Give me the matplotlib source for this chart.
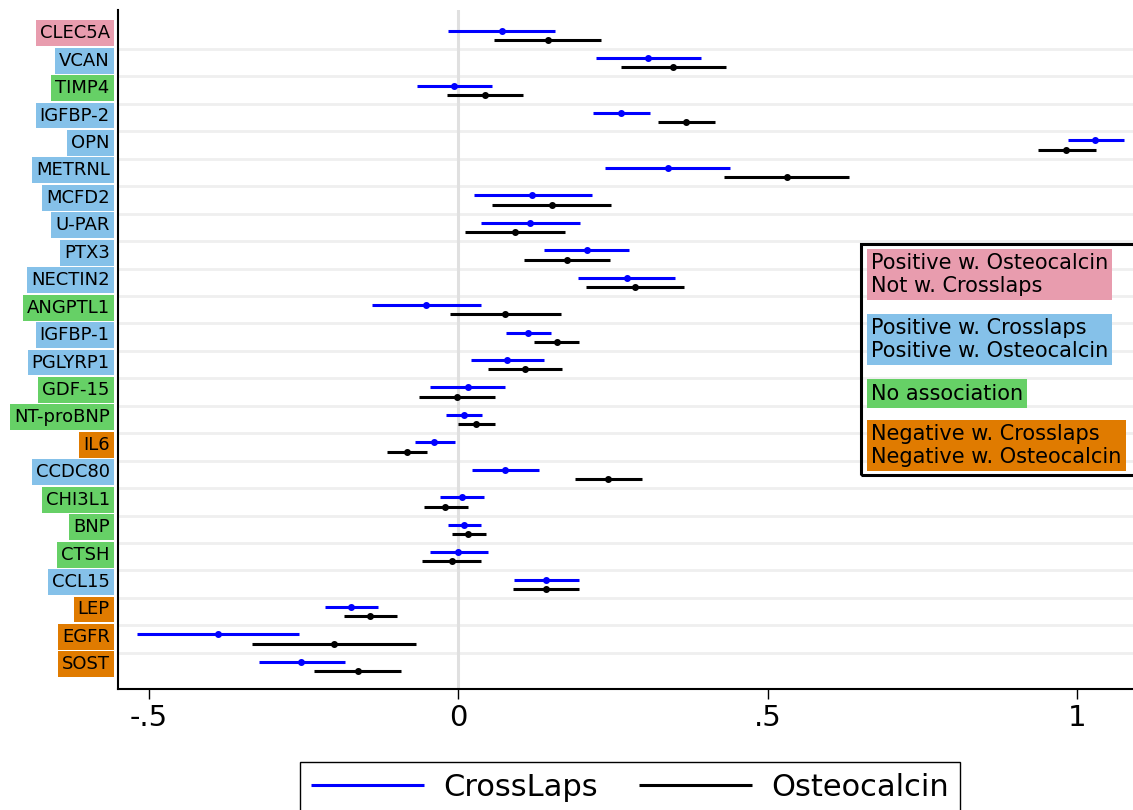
import matplotlib
matplotlib.use("Agg")
import matplotlib.pyplot as plt
from matplotlib.patches import Rectangle
import numpy as np

proteins = ["CLEC5A", "VCAN", "TIMP4", "IGFBP-2", "OPN", "METRNL", "MCFD2", "U-PAR",
            "PTX3", "NECTIN2", "ANGPTL1", "IGFBP-1", "PGLYRP1", "GDF-15", "NT-proBNP",
            "IL6", "CCDC80", "CHI3L1", "BNP", "CTSH", "CCL15", "LEP", "EGFR", "SOST"]
groups = ["pink", "blue", "green", "blue", "blue", "blue", "blue", "blue",
          "blue", "blue", "green", "blue", "blue", "green", "green",
          "orange", "blue", "green", "green", "green", "blue", "orange", "orange", "orange"]

# CrossLaps: estimate, lower and upper CI
cl_est = [0.070, 0.307, -0.007, 0.263, 1.029, 0.338, 0.119, 0.116, 0.208, 0.272, -0.052, 0.113,
          0.078, 0.015, 0.009, -0.039, 0.075, 0.005, 0.009, 0.000, 0.142, -0.174, -0.389, -0.254]
cl_lo = [-0.017, 0.222, -0.067, 0.217, 0.985, 0.237, 0.025, 0.036, 0.138, 0.193, -0.140, 0.077,
         0.020, -0.046, -0.020, -0.070, 0.022, -0.030, -0.017, -0.046, 0.090, -0.216, -0.519, -0.322]
cl_hi = [0.156, 0.392, 0.054, 0.309, 1.075, 0.439, 0.216, 0.196, 0.275, 0.350, 0.036, 0.149,
         0.138, 0.075, 0.038, -0.006, 0.130, 0.041, 0.036, 0.048, 0.194, -0.130, -0.258, -0.183]

# Osteocalcin: estimate, lower and upper CI
oc_est = [0.145, 0.347, 0.043, 0.368, 0.982, 0.530, 0.151, 0.091, 0.176, 0.286, 0.075, 0.159,
          0.107, -0.003, 0.029, -0.083, 0.242, -0.021, 0.016, -0.011, 0.141, -0.143, -0.201, -0.163]
oc_lo = [0.058, 0.263, -0.019, 0.322, 0.936, 0.429, 0.054, 0.011, 0.106, 0.206, -0.014, 0.122,
         0.048, -0.064, -0.001, -0.116, 0.188, -0.056, -0.011, -0.059, 0.088, -0.185, -0.333, -0.233]
oc_hi = [0.231, 0.432, 0.104, 0.414, 1.030, 0.631, 0.246, 0.172, 0.245, 0.364, 0.166, 0.195,
         0.167, 0.059, 0.059, -0.051, 0.296, 0.015, 0.044, 0.036, 0.194, -0.099, -0.069, -0.093]

xticks = [-0.5, 0, 0.5, 1]
xtick_labels = ["-.5", "0", ".5", "1"]

group_colors = {"pink": "#E89CAE", "blue": "#85C1E9", "green": "#66D066", "orange": "#E07B00"}
group_text = [("pink", "Positive w. Osteocalcin\nNot w. Crosslaps"),
              ("blue", "Positive w. Crosslaps\nPositive w. Osteocalcin"),
              ("green", "No association"),
              ("orange", "Negative w. Crosslaps\nNegative w. Osteocalcin")]

W, H = 1133, 810
fig = plt.figure(figsize=(W / 100, H / 100), dpi=100)
ax = fig.add_axes([118 / W, 1 - 689 / H, (W - 118) / W, (689 - 10) / H])

n = len(proteins)
y = np.arange(n)

# row separators and zero line
for i in range(n - 1):
    ax.axhline(i + 0.5, color="#efefef", lw=2, zorder=0)
ax.axvline(0, color="#e0e0e0", lw=2.2, zorder=0)

ax.hlines(y - 0.17, cl_lo, cl_hi, color="blue", lw=2.2, label="CrossLaps")
ax.plot(cl_est, y - 0.17, "o", color="blue", ms=4)
ax.hlines(y + 0.17, oc_lo, oc_hi, color="black", lw=2.2, label="Osteocalcin")
ax.plot(oc_est, y + 0.17, "o", color="black", ms=4)

ax.set_xlim(-0.550, 1.0897)
ax.set_ylim(23.82, -0.922)

ax.set_xticks(xticks)
ax.set_xticklabels(xtick_labels, fontsize=21)
ax.tick_params(axis="x", length=7, width=1, pad=4)

ax.set_yticks(y - 0.15)
ax.set_yticklabels(proteins, fontsize=13)
ax.tick_params(axis="y", length=0, pad=6)
for lab, g in zip(ax.get_yticklabels(), groups):
    lab.set_bbox(dict(facecolor=group_colors[g], edgecolor="none", boxstyle="square,pad=0.22"))

for s in ["top", "right"]:
    ax.spines[s].set_visible(False)
ax.spines["left"].set_linewidth(1.5)
ax.spines["bottom"].set_linewidth(1.5)

# category key on the right
fig.patches.append(Rectangle((861 / W, 1 - 475 / H), (W - 861 + 5) / W, (475 - 244) / H,
                             transform=fig.transFigure, fill=False, edgecolor="black", lw=2.2))
key_y = [274.5, 339.5, 393.5, 445.5]
for (g, txt), ky in zip(group_text, key_y):
    fig.text(871 / W, 1 - ky / H, txt, fontsize=15, ha="left", va="center",
             bbox=dict(facecolor=group_colors[g], edgecolor="none", boxstyle="square,pad=0.2"))

leg = fig.legend(loc="center", bbox_to_anchor=(630 / W, 1 - 787 / H), ncol=2, fontsize=22,
                 handlelength=3.7, handletextpad=0.62, columnspacing=1.35, borderpad=0.35,
                 fancybox=False, edgecolor="black", framealpha=1)
leg.get_frame().set_linewidth(1)

fig.savefig("out.png", dpi=100)
